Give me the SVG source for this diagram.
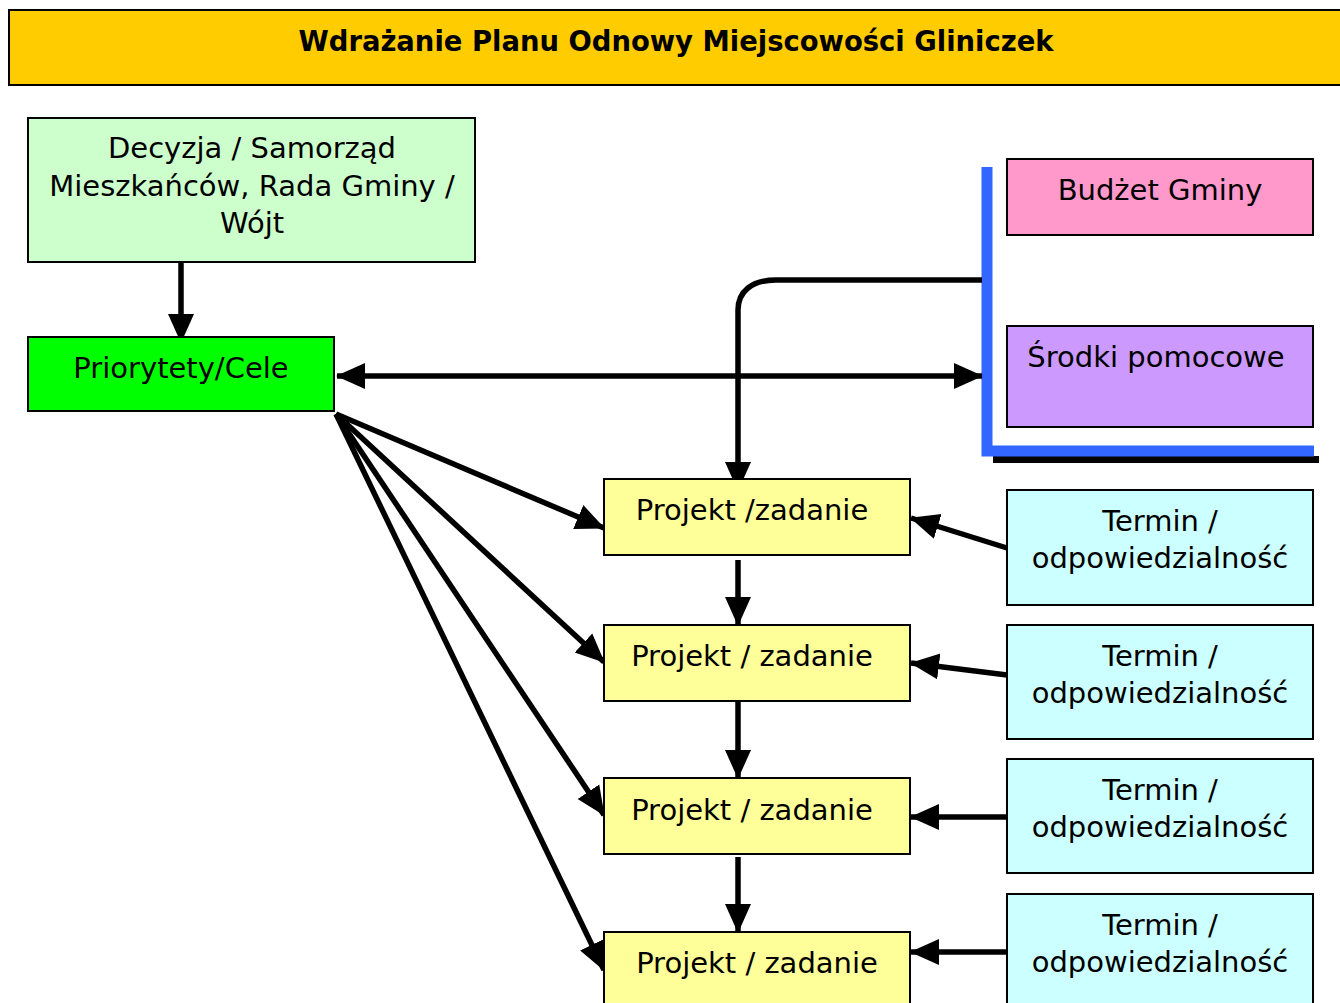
<svg xmlns="http://www.w3.org/2000/svg" width="1340" height="1003" viewBox="0 0 1340 1003">
<style>
.box{stroke:#000;stroke-width:2}
.t{font-family:"DejaVu Sans",Verdana,sans-serif;font-size:29px;fill:#000;text-anchor:middle}
.title{font-family:"DejaVu Sans Condensed","DejaVu Sans",sans-serif;font-weight:bold;font-size:29px;fill:#000;text-anchor:middle}
.c{stroke:#000;stroke-width:5.5;fill:none}
</style>
<defs>
<marker id="ah" markerUnits="userSpaceOnUse" markerWidth="30" markerHeight="30" viewBox="0 0 30 30" refX="28" refY="15" orient="auto-start-reverse">
<path d="M0,2 L29,15 L0,28 Z" fill="#000"/>
</marker>
</defs>
<rect width="1340" height="1003" fill="#fff"/>
<g id="title">
<rect class="box" x="9" y="10" width="1340" height="75" fill="#FFCC00"/>
<text class="title" x="676" y="51" textLength="755" lengthAdjust="spacingAndGlyphs">Wdrażanie Planu Odnowy Miejscowości Gliniczek</text>
</g>
<g id="bracket">
<line x1="993" y1="459.5" x2="1319" y2="459.5" stroke="#000" stroke-width="7"/>
<path d="M987,167 L987,451 L1314,451" stroke="#3366FF" stroke-width="11" fill="none"/>
</g>
<g id="connectors">
<line class="c" x1="181" y1="262" x2="181" y2="342" marker-end="url(#ah)"/>
<line class="c" x1="337" y1="376" x2="982" y2="376" marker-start="url(#ah)" marker-end="url(#ah)"/>
<path class="c" d="M982,280 L776,280 Q758,280 748,288 Q738,296 738,310 L738,490" marker-end="url(#ah)"/>
<line class="c" x1="738" y1="560" x2="738" y2="625" marker-end="url(#ah)"/>
<line class="c" x1="738" y1="701" x2="738" y2="778" marker-end="url(#ah)"/>
<line class="c" x1="738" y1="857" x2="738" y2="932" marker-end="url(#ah)"/>
<line class="c" x1="336" y1="414" x2="604" y2="528" marker-end="url(#ah)"/>
<line class="c" x1="336" y1="414" x2="604" y2="662" marker-end="url(#ah)"/>
<line class="c" x1="336" y1="414" x2="604" y2="815" marker-end="url(#ah)"/>
<line class="c" x1="336" y1="414" x2="604" y2="970" marker-end="url(#ah)"/>
<line class="c" x1="1007" y1="548" x2="911" y2="518" marker-end="url(#ah)"/>
<line class="c" x1="1007" y1="675" x2="911" y2="663" marker-end="url(#ah)"/>
<line class="c" x1="1007" y1="817" x2="911" y2="817" marker-end="url(#ah)"/>
<line class="c" x1="1007" y1="952" x2="911" y2="952" marker-end="url(#ah)"/>
</g>
<g id="decyzja">
<rect class="box" x="28" y="118" width="447" height="144" fill="#CCFFCC"/>
<text class="t" x="252" y="158">Decyzja / Samorząd</text>
<text class="t" x="252" y="196">Mieszkańców, Rada Gminy /</text>
<text class="t" x="252" y="233">Wójt</text>
</g>
<g id="priorytety">
<rect class="box" x="28" y="337" width="306" height="74" fill="#00FF00"/>
<text class="t" x="181" y="378">Priorytety/Cele</text>
</g>
<g id="budzet">
<rect class="box" x="1007" y="159" width="306" height="76" fill="#FF99CC"/>
<text class="t" x="1160" y="200">Budżet Gminy</text>
</g>
<g id="srodki">
<rect class="box" x="1007" y="326" width="306" height="101" fill="#CC99FF"/>
<text class="t" x="1156" y="367">Środki pomocowe</text>
</g>
<g id="projekt1">
<rect class="box" x="604" y="479" width="306" height="76" fill="#FFFF99"/>
<text class="t" x="752" y="520">Projekt /zadanie</text>
</g>
<g id="projekt2">
<rect class="box" x="604" y="625" width="306" height="76" fill="#FFFF99"/>
<text class="t" x="752" y="666">Projekt / zadanie</text>
</g>
<g id="projekt3">
<rect class="box" x="604" y="778" width="306" height="76" fill="#FFFF99"/>
<text class="t" x="752" y="820">Projekt / zadanie</text>
</g>
<g id="projekt4">
<rect class="box" x="604" y="932" width="306" height="80" fill="#FFFF99"/>
<text class="t" x="757" y="973">Projekt / zadanie</text>
</g>
<g id="termin1">
<rect class="box" x="1007" y="490" width="306" height="115" fill="#CCFFFF"/>
<text class="t" x="1160" y="531">Termin /</text>
<text class="t" x="1160" y="568">odpowiedzialność</text>
</g>
<g id="termin2">
<rect class="box" x="1007" y="625" width="306" height="114" fill="#CCFFFF"/>
<text class="t" x="1160" y="666">Termin /</text>
<text class="t" x="1160" y="703">odpowiedzialność</text>
</g>
<g id="termin3">
<rect class="box" x="1007" y="759" width="306" height="114" fill="#CCFFFF"/>
<text class="t" x="1160" y="800">Termin /</text>
<text class="t" x="1160" y="837">odpowiedzialność</text>
</g>
<g id="termin4">
<rect class="box" x="1007" y="894" width="306" height="120" fill="#CCFFFF"/>
<text class="t" x="1160" y="935">Termin /</text>
<text class="t" x="1160" y="972">odpowiedzialność</text>
</g>
</svg>
